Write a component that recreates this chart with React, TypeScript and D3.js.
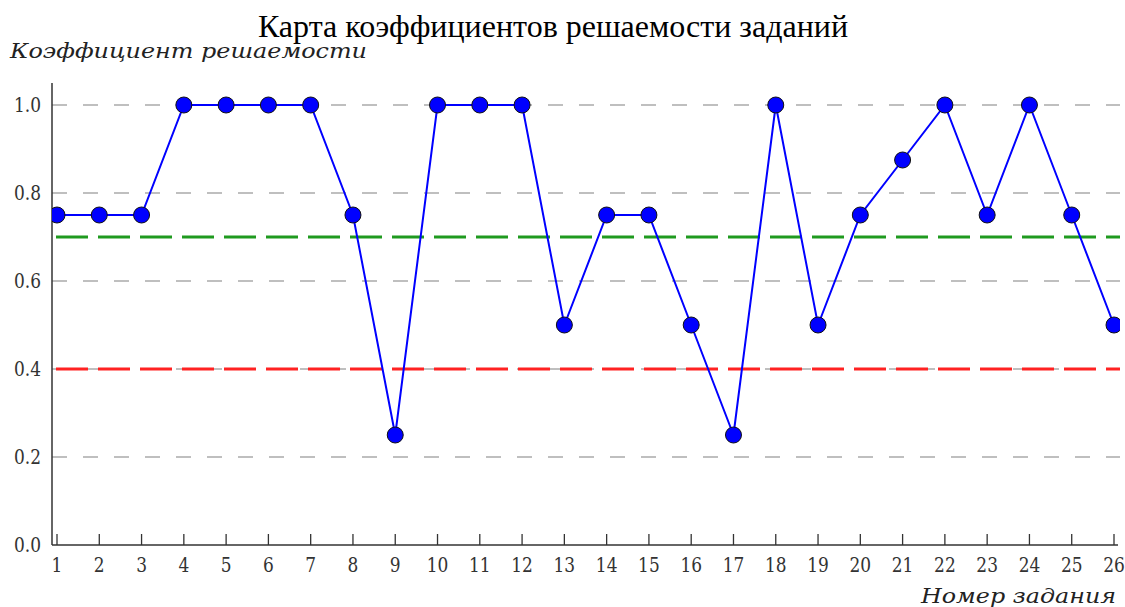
import * as d3 from "d3";

const tasks = [1, 2, 3, 4, 5, 6, 7, 8, 9, 10, 11, 12, 13, 14, 15, 16, 17, 18, 19, 20, 21, 22, 23, 24, 25, 26];
const coefficients = [
  0.75, 0.75, 0.75, 1, 1, 1, 1, 0.75, 0.25, 1, 1, 1, 0.5, 0.75, 0.75, 0.5, 0.25, 1, 0.5, 0.75, 0.875, 1, 0.75, 1,
  0.75, 0.5,
];
const yTicks = [0, 0.2, 0.4, 0.6, 0.8, 1.0];
const gridValues = [0.2, 0.4, 0.6, 0.8, 1.0];
const upperLevel = 0.7;
const lowerLevel = 0.4;

const title = "Карта коэффициентов решаемости заданий";
const yTitle = "Коэффициент решаемости";
const xTitle = "Номер задания";

export default function App() {
  const width = 1125;
  const height = 607;
  const left = 52;
  const right = 1120;
  const top = 83;
  const bottom = 545;

  const x = d3.scaleLinear().domain([1, 26]).range([57, 1114]);
  const y = d3.scaleLinear().domain([0, 1.05]).range([bottom, top]);

  const points = tasks.map((t, i) => [t, coefficients[i]] as [number, number]);
  const line = d3
    .line<[number, number]>()
    .x((d) => x(d[0]))
    .y((d) => y(d[1]));

  const tickFont = "'DejaVu Serif', serif";

  return (
    <svg
      width={width}
      height={height}
      style={{ position: "absolute", left: 0, top: 0, background: "#fff" }}
    >
      <defs>
        <clipPath id="plot">
          <rect x={left} y={top} width={right - left} height={bottom - top} />
        </clipPath>
      </defs>

      <text
        x={553}
        y={37}
        textAnchor="middle"
        fontFamily="'Liberation Serif', 'Times New Roman', serif"
        fontSize={32}
        fill="#000"
      >
        {title}
      </text>
      <text
        x={10}
        y={58}
        fontFamily={tickFont}
        fontStyle="italic"
        fontSize={20}
        fill="#222"
        textLength={357}
        lengthAdjust="spacingAndGlyphs"
      >
        {yTitle}
      </text>
      <text
        x={1116}
        y={603}
        textAnchor="end"
        fontFamily={tickFont}
        fontStyle="italic"
        fontSize={20}
        fill="#222"
        textLength={195}
        lengthAdjust="spacingAndGlyphs"
      >
        {xTitle}
      </text>

      {/* grid */}
      {gridValues.map((v) => (
        <line
          key={v}
          x1={left}
          x2={right}
          y1={y(v)}
          y2={y(v)}
          stroke="#aaa"
          strokeWidth={1.3}
          strokeDasharray="15,16"
        />
      ))}

      {/* threshold lines */}
      <line
        x1={left + 4}
        x2={right}
        y1={y(upperLevel)}
        y2={y(upperLevel)}
        stroke="#1f9a1f"
        strokeWidth={3}
        strokeDasharray="32,10"
      />
      <line
        x1={left + 4}
        x2={right}
        y1={y(lowerLevel)}
        y2={y(lowerLevel)}
        stroke="#ff2222"
        strokeWidth={3}
        strokeDasharray="32,10"
      />

      {/* axes */}
      <line x1={left} x2={left} y1={top} y2={bottom} stroke="#333" strokeWidth={1.5} />
      <line x1={left} x2={1118} y1={bottom} y2={bottom} stroke="#333" strokeWidth={1.5} />
      {tasks.map((t) => (
        <g key={t}>
          <line x1={x(t)} x2={x(t)} y1={bottom} y2={bottom - 11} stroke="#333" strokeWidth={1.3} />
          <text
            transform={`translate(${x(t)},572) scale(0.85,1)`}
            textAnchor="middle"
            fontFamily={tickFont}
            fontSize={20}
            fill="#333"
          >
            {t}
          </text>
        </g>
      ))}
      {yTicks.map((v) => (
        <text
          key={v}
          transform={`translate(41,${y(v) + 7}) scale(0.85,1)`}
          textAnchor="end"
          fontFamily={tickFont}
          fontSize={20}
          fill="#333"
        >
          {v.toFixed(1)}
        </text>
      ))}

      {/* series */}
      <g clipPath="url(#plot)">
        <path d={line(points) ?? ""} fill="none" stroke="#0000ff" strokeWidth={2} />
        {points.map((p) => (
          <circle key={p[0]} cx={x(p[0])} cy={y(p[1])} r={8} fill="#0000ff" stroke="#111" strokeWidth={1} />
        ))}
      </g>
    </svg>
  );
}
